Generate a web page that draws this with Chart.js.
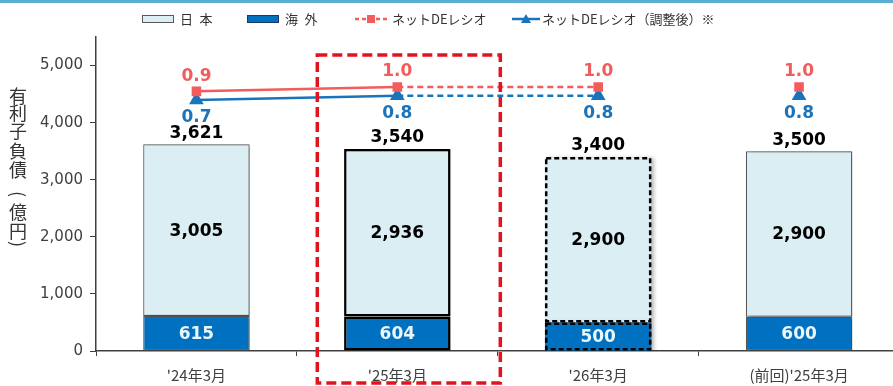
<!DOCTYPE html>
<html lang="ja">
<head>
<meta charset="utf-8">
<script src="https://cdn.jsdelivr.net/npm/chart.js@4.4.1/dist/chart.umd.min.js"></script>
<style>
html, body { margin: 0; padding: 0; background: #fff; overflow: hidden; }
#wrap { position: relative; width: 893px; height: 386px; overflow: hidden; }
#topbar { position: absolute; left: 0; top: 0; width: 893px; height: 3px; background: #5aaed3; }
canvas { position: absolute; left: 0; top: 0; }
</style>
</head>
<body>
<div id="wrap">
  <canvas id="debtChart" width="908" height="386"></canvas>
  <div id="topbar"></div>
</div>
<script>
var categories = ["'24年3月", "'25年3月", "'26年3月", "(前回)'25年3月"];
var domestic = [3005, 2936, 2900, 2900];
var overseas = [615, 604, 500, 600];
var totals = [3621, 3540, 3400, 3500];
var deRatio = [0.9, 1.0, 1.0, 1.0];
var deRatioAdj = [0.7, 0.8, 0.8, 0.8];
var yTicks = [0, 1000, 2000, 3000, 4000, 5000];

var LIGHT = '#dbeef4', DARK = '#0070c0', RED = '#f25c5c', BLUE = '#1a74bc';
var JP = '"Noto Sans CJK JP", "Noto Sans", sans-serif';
var NUM = '"DejaVu Sans", Verdana, sans-serif';

var barBorder = ['#595959', '#000000', 'rgba(0,0,0,0)', '#595959'];
var barBorderWidth = [1.2, 2.5, 0, 1.2];

function fmt(v) { return v.toLocaleString('en-US'); }

// line segments: solid, then dashed into the forecast, no link to the last column
var lineSegment = {
    borderDash: function (ctx) { return ctx.p0DataIndex === 1 ? [6, 4] : undefined; },
    borderColor: function (ctx) { return ctx.p0DataIndex === 2 ? 'rgba(0,0,0,0)' : undefined; }
};

var barShadow = {
    id: 'barShadow',
    beforeDatasetDraw: function (chart, args) {
        if (args.meta.type !== 'bar') return;
        var ctx = chart.ctx;
        ctx.save();
        ctx.shadowColor = 'rgba(0,0,0,0.28)';
        ctx.shadowBlur = 4;
        ctx.shadowOffsetX = 3;
        ctx.shadowOffsetY = 1;
    },
    afterDatasetDraw: function (chart, args) {
        if (args.meta.type !== 'bar') return;
        chart.ctx.restore();
    }
};

var decorations = {
    id: 'decorations',
    afterDatasetsDraw: function (chart) {
        var ctx = chart.ctx;
        var y = chart.scales.y;
        var ovMeta = chart.getDatasetMeta(2);
        var dmMeta = chart.getDatasetMeta(3);
        var redMeta = chart.getDatasetMeta(0);
        var blueMeta = chart.getDatasetMeta(1);

        // dashed outline for the forecast column
        ctx.save();
        ctx.strokeStyle = '#000';
        ctx.lineWidth = 2.5;
        ctx.setLineDash([5, 3]);
        [ovMeta.data[2], dmMeta.data[2]].forEach(function (el) {
            var p = el.getProps(['x', 'y', 'base', 'width'], true);
            ctx.strokeRect(p.x - p.width / 2 + 1.25, p.y + 1.25, p.width - 2.5, p.base - p.y - 2.5);
        });
        ctx.restore();

        ctx.save();
        ctx.textAlign = 'center';
        ctx.textBaseline = 'middle';
        for (var i = 0; i < categories.length; i++) {
            var d = dmMeta.data[i].getProps(['x', 'y', 'base'], true);
            var o = ovMeta.data[i].getProps(['x', 'y', 'base'], true);
            ctx.font = 'bold 17px ' + NUM;
            ctx.fillStyle = '#000';
            ctx.fillText(fmt(totals[i]), d.x, y.getPixelForValue(totals[i]) - 11);
            ctx.fillText(fmt(domestic[i]), d.x, (d.y + d.base) / 2 + 1);
            ctx.fillStyle = '#eaf6fb';
            ctx.fillText(fmt(overseas[i]), o.x, (o.y + o.base) / 2 + 1);

            var r = redMeta.data[i];
            var b = blueMeta.data[i];
            ctx.fillStyle = RED;
            ctx.fillText(deRatio[i].toFixed(1), r.x, r.y - 15);
            ctx.fillStyle = BLUE;
            ctx.fillText(deRatioAdj[i].toFixed(1), b.x, b.y + 18);
        }
        ctx.restore();

        // red frame around the current year
        var cx = chart.scales.x.getPixelForValue(1);
        ctx.save();
        ctx.strokeStyle = '#e0141e';
        ctx.lineWidth = 3.5;
        ctx.setLineDash([10, 5]);
        ctx.strokeRect(cx - 80, 55, 183, 328);
        ctx.restore();
    },
    afterDraw: function (chart) {
        var ctx = chart.ctx;
        ctx.save();
        // legend
        var ly = 19;
        ctx.font = '13px ' + JP;
        ctx.textBaseline = 'middle';

        ctx.fillStyle = LIGHT; ctx.fillRect(142, ly - 4, 32, 8);
        ctx.strokeStyle = '#595959'; ctx.lineWidth = 1; ctx.strokeRect(142.5, ly - 3.5, 31, 7);
        ctx.fillStyle = '#333'; ctx.fillText('日\u2002本', 180, ly);

        ctx.fillStyle = DARK; ctx.fillRect(247, ly - 4, 32, 8);
        ctx.strokeStyle = '#1f3864'; ctx.strokeRect(247.5, ly - 3.5, 31, 7);
        ctx.fillStyle = '#333'; ctx.fillText('海\u2002外', 285, ly);

        ctx.strokeStyle = RED; ctx.lineWidth = 2.5; ctx.setLineDash([4, 3]);
        ctx.beginPath(); ctx.moveTo(355, ly); ctx.lineTo(389, ly); ctx.stroke();
        ctx.setLineDash([]);
        ctx.fillStyle = RED; ctx.fillRect(367, ly - 4, 8, 8);
        ctx.fillStyle = '#333'; ctx.fillText('ネットDEレシオ', 392, ly);

        ctx.strokeStyle = BLUE; ctx.lineWidth = 2.5;
        ctx.beginPath(); ctx.moveTo(512, ly); ctx.lineTo(540, ly); ctx.stroke();
        ctx.fillStyle = BLUE;
        ctx.beginPath(); ctx.moveTo(526, ly - 5); ctx.lineTo(531, ly + 4); ctx.lineTo(521, ly + 4); ctx.closePath(); ctx.fill();
        ctx.fillStyle = '#333'; ctx.fillText('ネットDEレシオ（調整後）※', 542, ly);

        // vertical axis title, upright characters with turned brackets
        var title = ['有', '利', '子', '負', '債', '(', '億', '円', ')'];
        var ty = [96, 113, 131, 151, 170, 194, 212, 231, 244];
        ctx.font = '18px ' + JP;
        ctx.textAlign = 'center';
        ctx.fillStyle = '#333';
        title.forEach(function (c, k) {
            if (c === '(' || c === ')') {
                ctx.save();
                ctx.translate(18, ty[k]);
                ctx.rotate(Math.PI / 2);
                ctx.fillText(c, 0, 0);
                ctx.restore();
            } else {
                ctx.fillText(c, 18, ty[k]);
            }
        });
        ctx.restore();
    }
};

var chart = new Chart(document.getElementById('debtChart').getContext('2d'), {
    data: {
        labels: categories,
        datasets: [
            {
                type: 'line', label: 'ネットDEレシオ', data: deRatio, yAxisID: 'y2', order: 0,
                borderColor: RED, backgroundColor: RED, borderWidth: 2.5,
                pointStyle: 'rect', pointRadius: 5, segment: lineSegment
            },
            {
                type: 'line', label: 'ネットDEレシオ（調整後）※', data: deRatioAdj, yAxisID: 'y2', order: 0,
                borderColor: BLUE, backgroundColor: BLUE, borderWidth: 2.5,
                pointStyle: 'triangle', pointRadius: 6, segment: lineSegment
            },
            {
                type: 'bar', label: '海 外', data: overseas, order: 1,
                backgroundColor: DARK, borderColor: barBorder, borderWidth: barBorderWidth,
                borderSkipped: false, barPercentage: 0.53, categoryPercentage: 1
            },
            {
                type: 'bar', label: '日 本', data: domestic, order: 1,
                backgroundColor: LIGHT, borderColor: barBorder, borderWidth: barBorderWidth,
                borderSkipped: false, barPercentage: 0.53, categoryPercentage: 1
            }
        ]
    },
    options: {
        responsive: false,
        animation: false,
        layout: { padding: { top: 37, left: 0, right: 0, bottom: 0 } },
        plugins: { legend: { display: false }, tooltip: { enabled: false } },
        scales: {
            x: {
                stacked: true,
                offset: true,
                grid: { offset: true, drawOnChartArea: false, tickLength: 5, color: '#404040' },
                border: { color: '#404040', width: 1.5 },
                ticks: { color: '#404040', font: { family: JP, size: 15 }, padding: 10, maxRotation: 0 },
                afterFit: function (s) { s.height = 35; }
            },
            y: {
                stacked: true,
                min: 0, max: 5500,
                afterBuildTicks: function (s) { s.ticks = yTicks.map(function (v) { return { value: v }; }); },
                grid: { drawOnChartArea: false, tickLength: 6, color: '#404040' },
                border: { color: '#404040', width: 1.5 },
                ticks: { color: '#404040', font: { family: NUM, size: 15 }, padding: 7,
                    callback: function (v) { return fmt(v); } },
                afterFit: function (s) { s.width = 96; }
            },
            y2: { display: false, min: -5.092, max: 2.154 }
        }
    },
    plugins: [barShadow, decorations]
});
</script>
</body>
</html>
